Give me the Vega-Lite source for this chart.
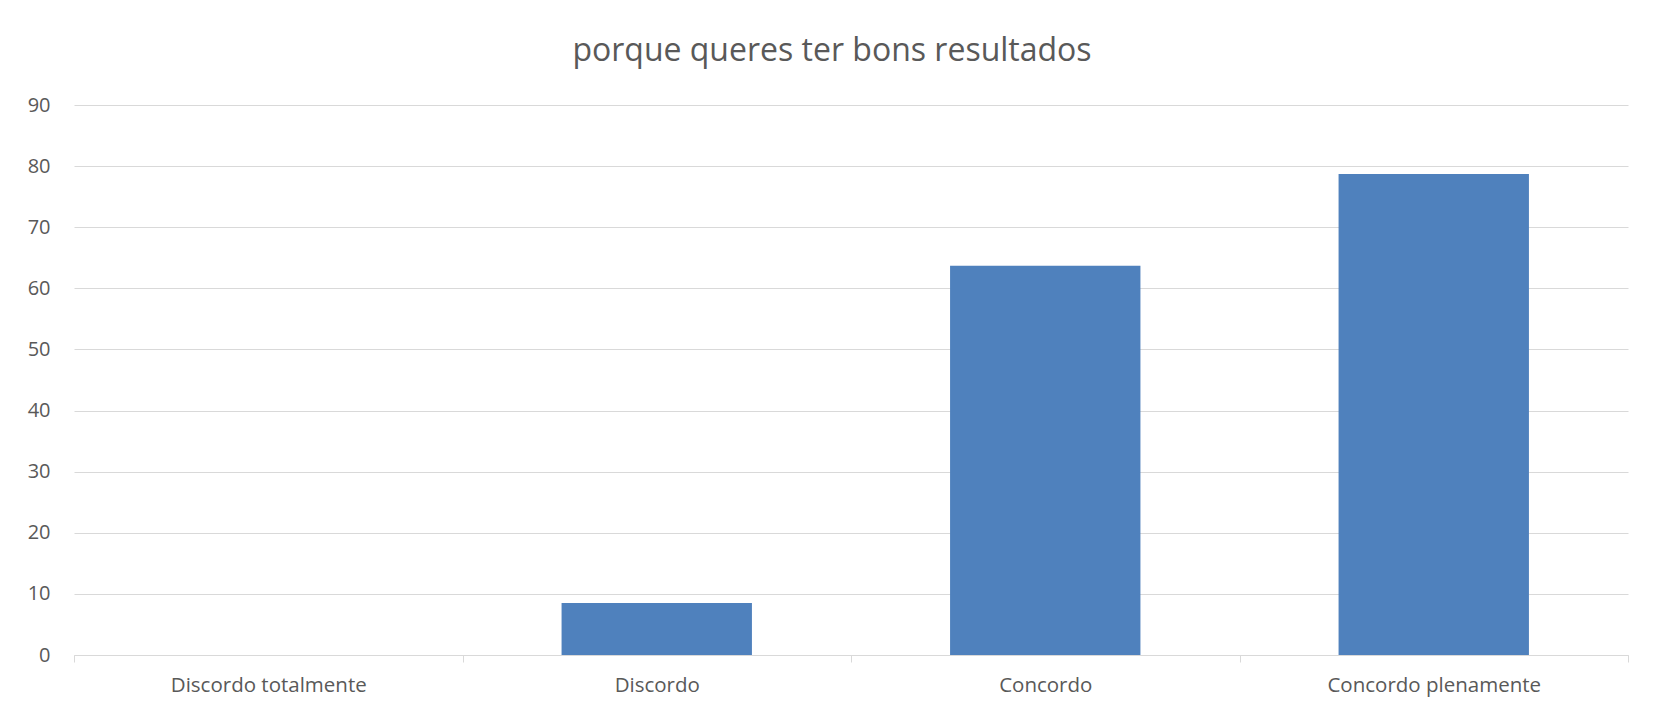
{
  "$schema": "https://vega.github.io/schema/vega-lite/v6.json",
  "autosize": {"type": "none"},
  "padding": {"left": 74, "top": 105, "right": 36, "bottom": 57},
  "width": 1554,
  "height": 550,
  "background": "white",
  "title": {
    "text": "porque queres ter bons resultados",
    "font": "Open Sans",
    "fontSize": 32,
    "fontWeight": "normal",
    "color": "#595959",
    "anchor": "middle",
    "offset": 27,
    "dx": -19
  },
  "data": {
    "values": [
      {"categoria": "Discordo totalmente", "valor": 0},
      {"categoria": "Discordo", "valor": 8.5},
      {"categoria": "Concordo", "valor": 63.7},
      {"categoria": "Concordo plenamente", "valor": 78.7}
    ]
  },
  "mark": {"type": "bar", "color": "#4f81bd", "width": {"band": 0.49}},
  "encoding": {
    "x": {
      "field": "categoria",
      "type": "nominal",
      "sort": null,
      "scale": {"paddingInner": 0, "paddingOuter": 0},
      "axis": {
        "title": null,
        "labelAngle": 0,
        "labelLimit": 0,
        "labelFont": "Open Sans",
        "labelFontSize": 20.5,
        "labelColor": "#595959",
        "labelPadding": 13,
        "domainColor": "#d9d9d9",
        "domainWidth": 1,
        "tickColor": "#d9d9d9",
        "tickSize": 7,
        "tickBand": "extent",
        "grid": false
      }
    },
    "y": {
      "field": "valor",
      "type": "quantitative",
      "scale": {"domain": [0, 90]},
      "axis": {
        "title": null,
        "values": [0, 10, 20, 30, 40, 50, 60, 70, 80, 90],
        "labelFont": "Open Sans",
        "labelFontSize": 20,
        "labelColor": "#595959",
        "labelPadding": 24,
        "domain": false,
        "ticks": false,
        "grid": true,
        "gridColor": "#d9d9d9",
        "gridWidth": 1.2
      }
    }
  },
  "config": {"view": {"stroke": null}}
}
